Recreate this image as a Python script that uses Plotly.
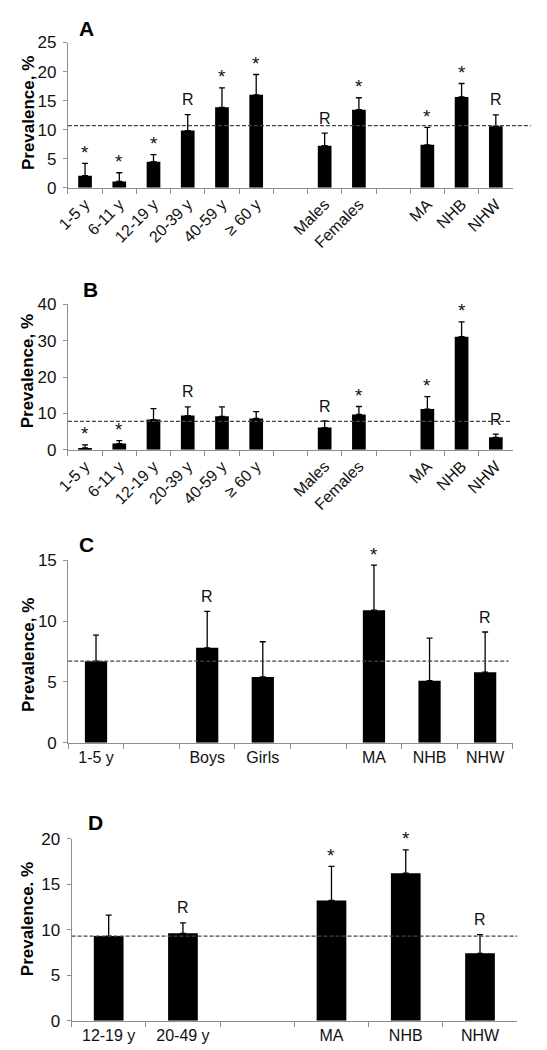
import plotly.graph_objects as go

# ---------------- data ----------------
A_cats = ["1-5 y", "6-11 y", "12-19 y", "20-39 y", "40-59 y", "≥ 60 y", " ",
          "Males", "Females", "  ", "MA", "NHB", "NHW"]
A_vals = [2.1, 1.1, 4.5, 9.85, 13.85, 16.0, None, 7.25, 13.45, None, 7.4, 15.65, 10.6]
A_err_top = [4.2, 2.6, 5.7, 12.6, 17.2, 19.5, None, 9.4, 15.5, None, 10.4, 17.95, 12.55]
A_marks = ["*", "*", "*", "R", "*", "*", "", "R", "*", "", "*", "*", "R"]

B_cats = A_cats
B_vals = [0.5, 1.7, 8.3, 9.4, 9.2, 8.6, None, 6.1, 9.7, None, 11.2, 31.1, 3.4]
B_err_top = [1.35, 2.5, 11.3, 11.8, 11.8, 10.5, None, 7.9, 11.9, None, 14.6, 35.2, 4.3]
B_marks = ["*", "*", "", "R", "", "", "", "R", "*", "", "*", "*", "R"]

C_cats = ["1-5 y", " ", "Boys", "Girls", "  ", "MA", "NHB", "NHW"]
C_vals = [6.7, None, 7.8, 5.4, None, 10.9, 5.1, 5.8]
C_err_top = [8.85, None, 10.8, 8.3, None, 14.6, 8.6, 9.1]
C_marks = ["", "", "R", "", "", "*", "", "R"]

D_cats = ["12-19 y", "20-49 y", " ", "MA", "NHB", "NHW"]
D_vals = [9.3, 9.6, None, 13.2, 16.2, 7.4]
D_err_top = [11.6, 10.75, None, 16.95, 18.75, 9.45]
D_marks = ["", "R", "", "*", "*", "R"]

overall = [10.7, 7.8, 6.7, 9.3]
panel_letters = ["A", "B", "C", "D"]
y_titles = ["Prevalence, %", "Prevalence, %", "Prevalence, %", "Prevalence. %"]
y_ranges = [[0, 25], [0, 40], [0, 15], [0, 20]]
y_dticks = [5, 10, 5, 5]

panels = [
    (A_cats, A_vals, A_err_top, A_marks),
    (B_cats, B_vals, B_err_top, B_marks),
    (C_cats, C_vals, C_err_top, C_marks),
    (D_cats, D_vals, D_err_top, D_marks),
]

# ---------------- layout geometry (pixels) ----------------
W, H = 547, 1050
boxes = [
    (49, 504, 174, 26),
    (49, 504, 440.7, 292.7),
    (49.3, 504, 739, 553.3),
    (52.7, 508.3, 1022.3, 836.7),
]
tickangles = [-45, -45, 0, 0]
dash_ends = [1.04, 0.995, 0.99, 1.0]
letter_pos = [(68, 12), (72, 278), (68, 537), (77, 820)]
ytitle_pos = [(8, 98), (8, 361), (8, 650), (8, 919)]

FONT = "Arial, Liberation Sans, sans-serif"
AXIS_GRAY = "#8f8f8f"

fig = go.Figure()
annotations = []
shapes = []

for i, (cats, vals, err_top, marks) in enumerate(panels):
    n = i + 1
    xa = "x" if n == 1 else f"x{n}"
    ya = "y" if n == 1 else f"y{n}"
    plus = [(e - v) if (v is not None and e is not None) else None
            for v, e in zip(vals, err_top)]
    fig.add_trace(go.Bar(
        x=cats, y=vals, xaxis=xa, yaxis=ya,
        marker=dict(color="black", line=dict(width=0)),
        width=0.4,
        error_y=dict(type="data", symmetric=False, array=plus,
                     arrayminus=[0] * len(vals), color="black",
                     thickness=1.3, width=3),
        showlegend=False, hoverinfo="x+y",
    ))
    xl, xr, yb, yt = boxes[i]
    xdom = [xl / W, xr / W]
    ydom = [1 - yb / H, 1 - yt / H]
    axx = dict(domain=xdom, anchor=ya, type="category",
               categoryorder="array", categoryarray=cats,
               range=[-0.5, len(cats) - 0.5],
               showline=True, linecolor=AXIS_GRAY, linewidth=1,
               ticks="outside", tickson="boundaries", ticklen=5,
               tickcolor=AXIS_GRAY, tickwidth=1,
               tickangle=tickangles[i],
               tickfont=dict(family=FONT, size=16, color="#111"),
               showgrid=False, zeroline=False, fixedrange=True)
    axy = dict(domain=ydom, anchor=xa, range=y_ranges[i], dtick=y_dticks[i],
               tick0=0, showline=True, linecolor=AXIS_GRAY, linewidth=1,
               ticks="outside", ticklen=4, tickcolor=AXIS_GRAY, tickwidth=1,
               tickfont=dict(family=FONT, size=17, color="#111"),
               ticklabelstandoff=3,
               showgrid=False, zeroline=False, fixedrange=True)
    fig.update_layout(**{("xaxis" if n == 1 else f"xaxis{n}"): axx,
                         ("yaxis" if n == 1 else f"yaxis{n}"): axy})

    shapes.append(dict(type="line", xref=f"{xa} domain", yref=ya,
                       x0=0, x1=dash_ends[i], y0=overall[i], y1=overall[i],
                       line=dict(color="#444", width=1.3, dash="4px,2px")))

    for c, e, m in zip(cats, err_top, marks):
        if m:
            annotations.append(dict(
                x=c, y=e, xref=xa, yref=ya, text=m, showarrow=False,
                xanchor="center", yanchor="middle",
                yshift=15 if m == "R" else 11,
                font=dict(family=FONT, size=16 if m == "R" else 19,
                          color="#111")))

    lx, ly = letter_pos[i]
    annotations.append(dict(
        x=lx / W, y=1 - ly / H, xref="paper", yref="paper",
        text=f"<b>{panel_letters[i]}</b>", showarrow=False,
        xanchor="center", yanchor="middle",
        font=dict(family=FONT, size=21, color="black")))

    tx, ty = ytitle_pos[i]
    annotations.append(dict(
        x=tx / W, y=1 - ty / H, xref="paper", yref="paper",
        text=f"<b>{y_titles[i]}</b>", showarrow=False, textangle=-90,
        xanchor="center", yanchor="middle",
        font=dict(family=FONT, size=17, color="black")))

fig.update_layout(
    width=W, height=H,
    margin=dict(l=0, r=0, t=0, b=0),
    paper_bgcolor="white", plot_bgcolor="white",
    annotations=annotations, shapes=shapes,
    font=dict(family=FONT, color="#111"),
)

fig.write_html("out.html")
